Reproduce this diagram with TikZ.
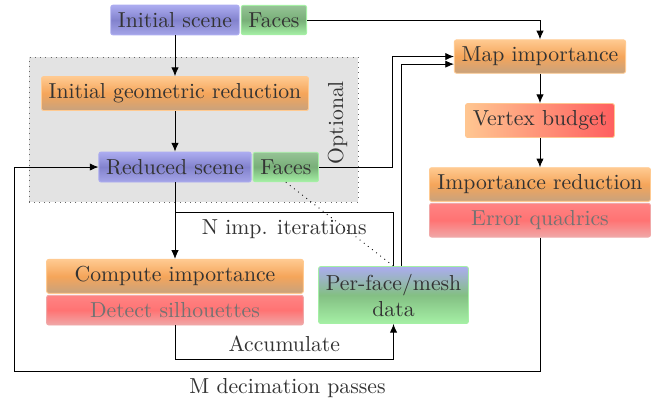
\documentclass[tikz,border=0pt]{standalone}
\usepackage{xcolor}
\usepackage{tikz}
\usetikzlibrary{shapes,arrows,positioning,calc,arrows.meta}

\definecolor{scenetop}{RGB}{172,172,240}
\definecolor{scenemid}{RGB}{130,130,205}
\definecolor{scenebot}{RGB}{165,165,232}
\definecolor{facetop}{RGB}{150,195,150}
\definecolor{facemid}{RGB}{120,175,120}
\definecolor{facebot}{RGB}{165,240,165}
\definecolor{imptop}{RGB}{255,202,145}
\definecolor{impmid}{RGB}{245,165,90}
\definecolor{impbot}{RGB}{200,162,125}
\definecolor{errtop}{RGB}{255,132,132}
\definecolor{errmid}{RGB}{255,115,115}
\definecolor{errbot}{RGB}{240,168,168}
\definecolor{budleft}{RGB}{255,198,145}
\definecolor{budright}{RGB}{255,95,95}

\tikzset{
    box/.style={rounded corners=1pt, line width=0.4pt},
    scenebox/.style={box, draw=scenetop, top color=scenetop, bottom color=scenebot, middle color=scenemid},
    facebox/.style={box, draw=facebot, top color=facetop, bottom color=facebot, middle color=facemid},
    impbox/.style={box, draw=imptop, top color=imptop, bottom color=impbot, middle color=impmid},
    errbox/.style={box, draw=errbot, text=black!55, top color=errtop, bottom color=errbot, middle color=errmid},
    budgetbox/.style={box, draw=budleft, left color=budleft, right color=budright},
    databox/.style={box, draw=facebot, top color=scenetop, bottom color=facebot, middle color=facemid!75!facebot, align=center},
    arr/.style={-{Latex[length=4pt,width=3.4pt]}},
}

\begin{document}
\begin{tikzpicture}[every node/.append style={text=black!80}]
    \useasboundingbox (0,0) rectangle (10.66,6.53);

    % Optional part
    \draw[dotted, draw=black!60, fill=black!11] (0.47,3.257) rectangle (5.80,5.606);
    \node[rotate=90] (opt) at (5.468,4.544) {Optional};

    % Left column
    \node[scenebox] (iscene) at (2.835,6.205) {Initial scene};
    \node[facebox, right=0.5pt of iscene] (ifaces) {Faces};
    \node[impbox] (igr) at (2.835,5.014) {Initial geometric reduction};
    \node[scenebox] (rscene) at (2.835,3.824) {Reduced scene};
    \node[facebox, right=0.5pt of rscene] (rfaces) {Faces};
    \node[impbox, minimum width=4.16cm] (compimp) at (2.835,2.053) {Compute importance};
    \node[errbox, minimum width=4.16cm, below=0.5pt of compimp] (detsil) {Detect silhouettes};
    \node[databox] (pfd) at (6.375,1.75) {Per-face/mesh\\data};

    % Right column
    \node[impbox] (mapimp) at (8.748,5.614) {Map importance};
    \node[budgetbox] (vbud) at (8.748,4.577) {Vertex budget};
    \node[impbox, inner xsep=2pt, minimum width=3.58cm] (impred) at (8.748,3.540) {Importance reduction};
    \node[errbox, inner xsep=2pt, minimum width=3.58cm, below=0.5pt of impred] (errq) {Error quadrics};

    % Loop corners
    \coordinate (njoin) at (2.835,3.095);
    \coordinate (acc) at (2.835,0.713);
    \coordinate (mleft) at (0.227,0.519);
    \coordinate (fbend) at (6.35,5.614);

    \draw[arr] (iscene) -- (igr);
    \draw[arr] (igr) -- (rscene);
    \draw[arr] (rscene) -- (compimp);
    \draw (pfd.north) |- node[pos=0.75, below] {N imp. iterations} (njoin);
    \draw[arr] (detsil) -- (acc) -| node[pos=0.25, above] {Accumulate} (pfd);
    \draw[dotted] (rfaces.south) -- (pfd.north);

    \draw[arr] (ifaces) -| (mapimp);
    \draw[arr] (rfaces) -| (fbend) -- (mapimp);
    \draw[arr] ([xshift=3.5pt]pfd.north) |- ([yshift=-3.5pt]mapimp.west);
    \draw[arr] (mapimp) -- (vbud);
    \draw[arr] (vbud) -- (impred);
    \draw[arr] (errq) |- node[pos=0.74, below] {M decimation passes} (mleft) |- (rscene);
\end{tikzpicture}
\end{document}
